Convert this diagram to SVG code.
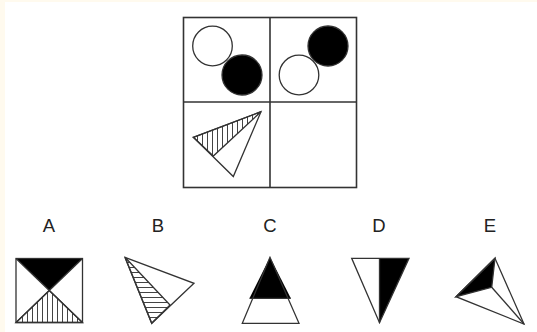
<svg xmlns="http://www.w3.org/2000/svg" width="537" height="332" viewBox="0 0 537 332">
<style>
.grid{fill:none;stroke:#333;stroke-width:1.6}
.sh{stroke:#333;stroke-width:1.3;stroke-linejoin:miter}
.open{fill:#fff}
.blk{fill:#000}
.lbl{font-family:"Liberation Sans",Arial,sans-serif;font-size:18.5px;fill:#222;text-anchor:middle}
</style>
<defs>
<pattern id="vh" patternUnits="userSpaceOnUse" width="5" height="5">
<rect width="5" height="5" fill="#fff"/>
<line x1="2.5" y1="0" x2="2.5" y2="5" stroke="#444" stroke-width="1"/>
</pattern>
<pattern id="hh" patternUnits="userSpaceOnUse" width="5" height="5">
<rect width="5" height="5" fill="#fff"/>
<line x1="0" y1="2.5" x2="5" y2="2.5" stroke="#444" stroke-width="1"/>
</pattern>
</defs>
<rect width="537" height="332" fill="#fffaee"/>
<rect x="5" y="2" width="532" height="330" fill="#fff"/>
<g id="grid">
<rect class="grid" x="183.5" y="17.5" width="173" height="170"/>
<line class="grid" x1="270" y1="17.5" x2="270" y2="187.5"/>
<line class="grid" x1="183.5" y1="102" x2="356.5" y2="102"/>
</g>
<g id="cell1">
<circle class="sh open" cx="212.5" cy="46" r="19.8"/>
<circle class="sh blk" cx="242" cy="75" r="20"/>
</g>
<g id="cell2">
<circle class="sh blk" cx="328" cy="46" r="20"/>
<circle class="sh open" cx="299" cy="75" r="19.8"/>
</g>
<g id="cell3">
<polygon class="sh" fill="url(#vh)" points="193.3,137.3 261,111.7 213.3,156"/>
<polygon class="sh" fill="none" points="193.3,137.3 261,111.7 233.3,176.5"/>
</g>
<g id="labels">
<text class="lbl" x="49" y="231.5">A</text>
<text class="lbl" x="158" y="231.5">B</text>
<text class="lbl" x="270" y="231.5">C</text>
<text class="lbl" x="379" y="231.5">D</text>
<text class="lbl" x="490" y="231.5">E</text>
</g>
<g id="optA">
<polygon class="blk" points="16,258.5 82.5,258.5 49.3,290.5"/>
<polygon class="sh" fill="url(#vh)" points="16,322.5 82.5,322.5 49.3,290.5"/>
<rect class="sh" fill="none" x="16" y="258.5" width="66.5" height="64"/>
<line class="sh" x1="16" y1="258.5" x2="82.5" y2="322.5"/>
<line class="sh" x1="82.5" y1="258.5" x2="16" y2="322.5"/>
</g>
<g id="optB">
<polygon class="sh" fill="url(#hh)" points="125,257.3 170,305 151.7,323.3"/>
<polygon class="sh" fill="none" points="125,257.3 194,283.3 151.7,323.3"/>
</g>
<g id="optC">
<polygon class="blk" points="270,257.3 249.5,298.3 290.8,298.3"/>
<polygon class="sh" fill="none" points="270,257.3 242.3,323.3 299,323.3"/>
<line class="sh" x1="249.5" y1="298.3" x2="290.8" y2="298.3"/>
</g>
<g id="optD">
<polygon class="blk" points="379.5,258.3 409,258.3 379.5,322.7"/>
<polygon class="sh" fill="none" points="351.7,258.3 409,258.3 379.5,322.7"/>
<line class="sh" x1="379.5" y1="258.3" x2="379.5" y2="322.7"/>
</g>
<g id="optE">
<polygon class="sh blk" points="495,258.3 456,296.7 491.7,287.3"/>
<polygon class="sh" fill="none" points="495,258.3 456,296.7 524,324"/>
<line class="sh" x1="491.7" y1="287.3" x2="524" y2="324"/>
</g>
</svg>
